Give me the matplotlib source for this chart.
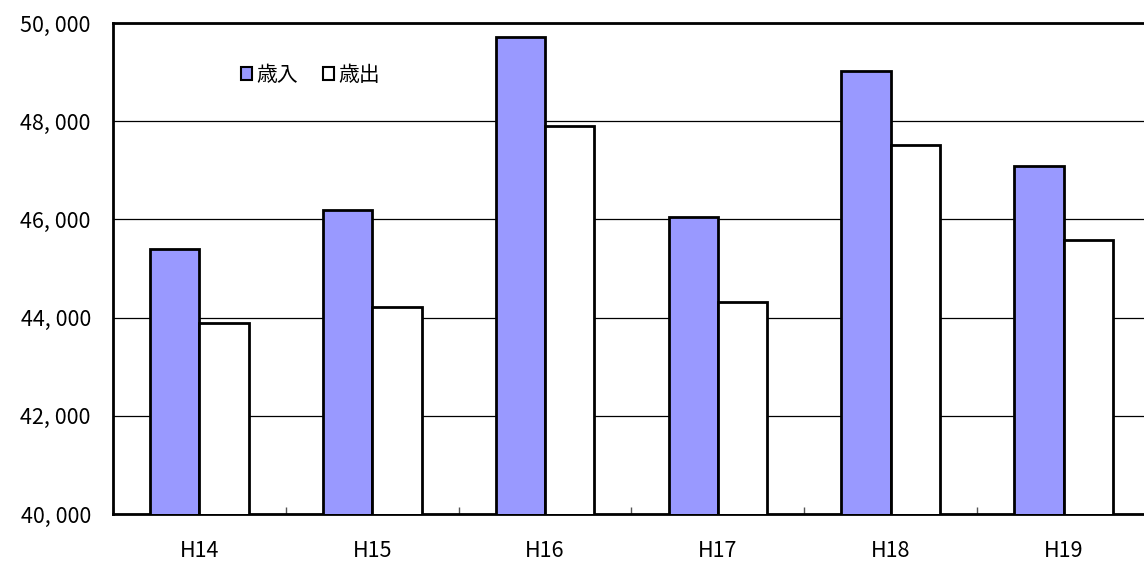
import numpy as np
import matplotlib
matplotlib.use("Agg")
import matplotlib.pyplot as plt
from matplotlib.patches import Patch

plt.rcParams['font.family'] = ['Noto Sans CJK JP', 'DejaVu Sans']

# 年度別の歳入・歳出
years = ["H14", "H15", "H16", "H17", "H18", "H19"]
revenue = [45390, 46200, 49710, 46040, 49020, 47080]
expenditure = [43900, 44220, 47900, 44310, 47510, 45590]
yticks = [40000, 42000, 44000, 46000, 48000, 50000]

W, H = 1144, 567
fig = plt.figure(figsize=(W / 100, H / 100), dpi=100)
# plot area runs a little past the right edge of the image
ax = fig.add_axes([113 / W, 1 - 514 / H, (1150 - 113) / W, (514 - 23) / H])

x = np.arange(len(years))
bw = 1 / 3.5
ax.bar(x - bw / 2, revenue, bw, color="#9999ff", edgecolor="black", linewidth=2, zorder=3)
ax.bar(x + bw / 2, expenditure, bw, color="white", edgecolor="black", linewidth=2, zorder=3)

ax.set_xlim(-0.5, len(years) - 0.5)
ax.set_ylim(40000, 50000)
ax.set_yticks(yticks)
ax.set_yticklabels([f"{v:,}".replace(",", ", ") for v in yticks], fontsize=15.5)
ax.tick_params(axis="y", length=0, pad=16)
ax.yaxis.grid(True, color="black", linewidth=0.9, zorder=0)

ax.set_xticks(x)
ax.set_xticklabels(years, fontsize=15.5)
ax.tick_params(axis="x", length=0, pad=19)
ax.set_xticks(np.arange(len(years) + 1) - 0.5, minor=True)
ax.tick_params(axis="x", which="minor", direction="in", length=5, color="#555555", width=1)

for s in ["left", "bottom", "top"]:
    ax.spines[s].set_linewidth(2)
ax.spines["right"].set_visible(False)

handles = [Patch(facecolor="#9999ff", edgecolor="black", linewidth=1.5),
           Patch(facecolor="white", edgecolor="black", linewidth=1.5)]
ax.legend(handles, ["歳入", "歳出"], loc="upper left", bbox_to_anchor=(0.105, 0.955),
          ncol=2, frameon=False, prop={"size": 15},
          handlelength=0.55, handleheight=0.55, handletextpad=0.2, columnspacing=1.2)

fig.savefig("out.png", dpi=100)
